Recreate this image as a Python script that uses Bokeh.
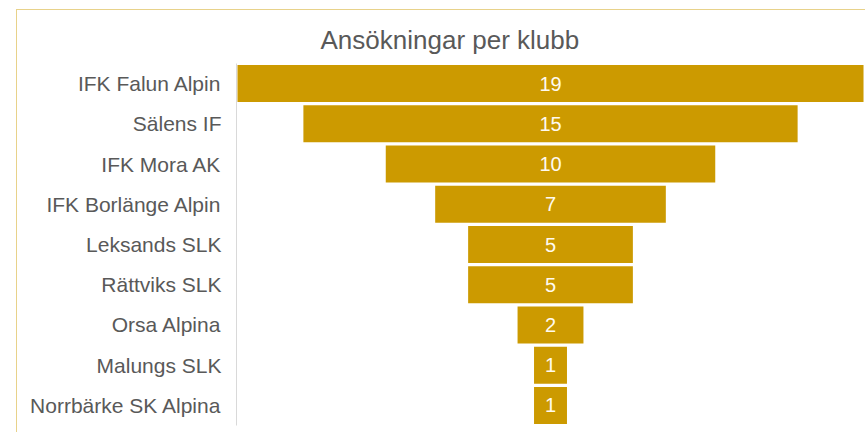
from bokeh.plotting import figure
from bokeh.models import ColumnDataSource, FactorRange, Range1d
from bokeh.core.properties import value
from bokeh.embed import file_html
from bokeh.resources import INLINE

clubs = ["IFK Falun Alpin", "Sälens IF", "IFK Mora AK", "IFK Borlänge Alpin",
         "Leksands SLK", "Rättviks SLK", "Orsa Alpina", "Malungs SLK",
         "Norrbärke SK Alpina"]
applications = [19, 15, 10, 7, 5, 5, 2, 1, 1]
title_text = "Ansökningar per klubb"

BAR = "#cc9a00"
FONT = "Liberation Sans"

src = ColumnDataSource(dict(
    club=clubs,
    n=applications,
    lo=[-v / 2 for v in applications],
    hi=[v / 2 for v in applications],
    label=[str(v) for v in applications],
))

frame_css = (":host::after { content: ''; position: absolute; left: 16px; top: 9px; "
             "right: 0; bottom: 0; border-top: 1px solid #e8d28a; "
             "border-left: 1px solid #e8d28a; pointer-events: none; }")

p = figure(
    width=865, height=432,
    y_range=FactorRange(factors=list(reversed(clubs)), range_padding=0),
    x_range=Range1d(-9.53, 9.56),
    output_backend="svg", toolbar_location=None,
    min_border_left=236, min_border_right=0, min_border_top=63, min_border_bottom=7,
    title=title_text,
    stylesheets=[frame_css],
)

p.hbar(y="club", left="lo", right="hi", height=0.92, source=src,
       fill_color=BAR, line_color=None)

p.text(x=0, y="club", text="label", source=src, text_align="center",
       text_baseline="middle", text_color="#fffaf0", text_font_size="20px",
       text_font=value(FONT))

p.xaxis.visible = False
p.xgrid.visible = False
p.ygrid.visible = False
p.outline_line_color = None

ax = p.yaxis[0]
ax.axis_line_color = "#d9d9d9"
ax.axis_line_width = 1
ax.major_tick_line_color = None
ax.minor_tick_line_color = None
ax.major_tick_out = 0
ax.major_label_standoff = 15
ax.major_label_text_font = FONT
ax.major_label_text_font_size = "21px"
ax.major_label_text_color = "#595959"

p.title.text_font = FONT
p.title.text_font_size = "26px"
p.title.text_font_style = "normal"
p.title.text_color = "#595959"
p.title.align = "left"
p.title.offset = 84
p.title.standoff = 17

open("out.html", "w").write(file_html(p, INLINE))
